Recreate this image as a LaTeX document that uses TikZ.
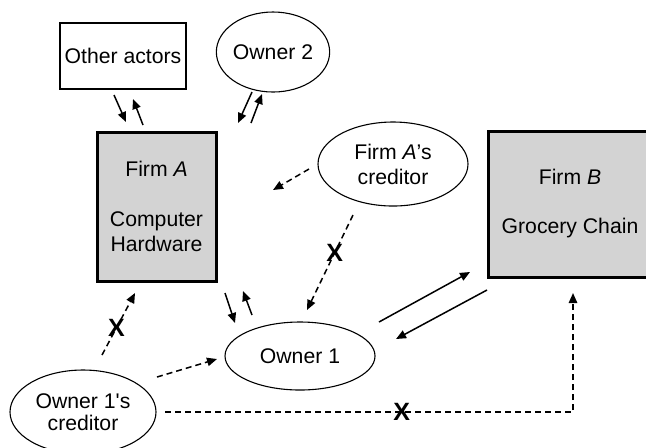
\documentclass[tikz,border=0pt]{standalone}
\usepackage{fontspec}
\setmainfont{Liberation Sans}
\usetikzlibrary{arrows.meta,shapes.geometric}
\definecolor{boxgray}{RGB}{211,211,211}
\begin{document}
\begin{tikzpicture}[x=0.5pt,y=-0.5pt,
  every node/.style={font=\fontsize{10.6}{12.5}\selectfont, align=center, inner sep=0pt},
  firmbox/.style={draw, fill=boxgray, line width=1.5pt, rectangle},
  plainbox/.style={draw, line width=0.6pt, rectangle},
  oval/.style={draw, ellipse, line width=0.55pt},
  arr/.style={line width=0.75pt, -{Triangle[length=5pt,width=4.2pt]}},
  darr/.style={arr, dash pattern=on 3pt off 2pt},
  xmark/.style={font=\fontsize{12.5}{14}\selectfont\bfseries}
]
\path[use as bounding box] (0,0) rectangle (646,447);
\begin{scope}
\clip (0,0) rectangle (646,447);
\node[plainbox, minimum width=63pt, minimum height=33pt] (oa) at (123,56) {Other actors};
\node[oval, minimum width=49pt, minimum height=40pt] (o2) at (273,52) {Owner 2};
\node[firmbox, minimum width=59.5pt, minimum height=74.5pt] (fa) at (156.5,206.5) {Firm \textit{A}\\[12.5pt]Computer\\Hardware};
\node[firmbox, minimum width=82pt, minimum height=73pt] (fb) at (570,204) {Firm \textit{B}\\[12pt]Grocery Chain};
\node[oval, minimum width=75pt, minimum height=42pt] (fac) at (393,164) {Firm \textit{A}’s\\creditor};
\node[oval, minimum width=75pt, minimum height=34pt] (o1) at (300,356) {Owner 1};
\node[oval, minimum width=73pt, minimum height=42pt, font=\fontsize{10.6}{11}\selectfont] (o1c) at (83,412) {Owner 1\textquotesingle s\\creditor};
\coordinate (facend) at ([shift={(116.5,-16.5)}]fa.center);
% solid arrows
\draw[arr] ([shift={(-9,39)}]oa.center) -- ([shift={(-30.5,-84.5)}]fa.center);
\draw[arr] ([shift={(-13.5,-81.5)}]fa.center) -- ([shift={(10,43)}]oa.center);
\draw[arr] ([shift={(-21,40)}]o2.center) -- ([shift={(81.5,-83.5)}]fa.center);
\draw[arr] ([shift={(94.5,-83.5)}]fa.center) -- ([shift={(-11,42)}]o2.center);
\draw[arr] ([shift={(68.5,86.5)}]fa.center) -- ([shift={(-65,-33)}]o1.center);
\draw[arr] ([shift={(-48,-41)}]o1.center) -- ([shift={(86.5,84.5)}]fa.center);
\draw[arr] ([shift={(79,-34)}]o1.center) -- ([shift={(-100,68)}]fb.center);
\draw[arr] ([shift={(-83,86)}]fb.center) -- ([shift={(96,-17)}]o1.center);
% dashed arrows
\draw[darr] ([shift={(-84,5)}]fac.center) -- (facend);
\draw[darr] ([shift={(-40,51)}]fac.center) -- node[pos=0.4, xmark] (x1) {X} ([shift={(7,-46)}]o1.center);
\draw[darr] ([shift={(74,-35)}]o1c.center) -- ([shift={(-83,3)}]o1.center);
\draw[darr] ([shift={(19,-57)}]o1c.center) -- node[pos=0.44, xmark] (x2) {X} ([shift={(-21.5,86.5)}]fa.center);
\draw[darr] ([shift={(82,0)}]o1c.center) -| node[pos=0.29, xmark] (x3) {X} ([shift={(3,89)}]fb.center);
\end{scope}
\end{tikzpicture}
\end{document}
